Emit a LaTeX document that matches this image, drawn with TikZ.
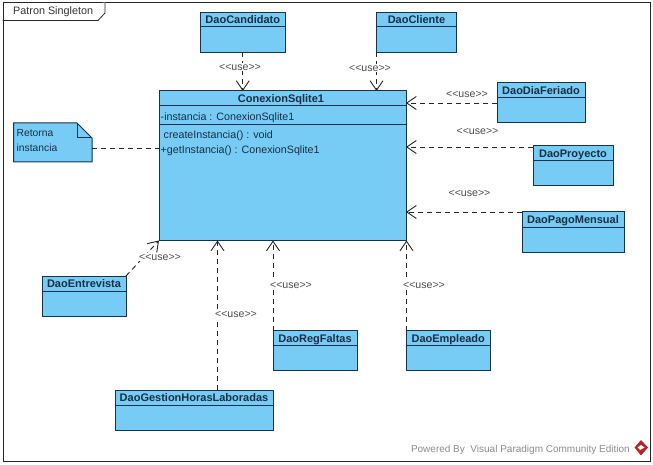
\documentclass[tikz,border=0pt]{standalone}
\usepackage{fontspec}
\setmainfont{Liberation Sans}
\usetikzlibrary{arrows.meta,positioning,calc}
\definecolor{clsfill}{HTML}{76CCF4}
\definecolor{clsline}{HTML}{15334F}
\definecolor{txtdark}{HTML}{1A2E44}
\tikzset{
  x=1pt,y=-1pt,
  cls/.style={draw=clsline,fill=clsfill,line width=1pt,anchor=north west,inner sep=0pt,outer sep=0pt},
  clsname/.style={anchor=base,inner sep=0pt,font=\fontsize{11}{12}\selectfont\bfseries,text=txtdark},
  member/.style={anchor=base west,inner sep=0pt,font=\fontsize{10.7}{12}\selectfont,text=txtdark},
  sep/.style={draw=clsline,line width=1pt},
  dep/.style={draw=black!85,line width=.9pt,dash pattern=on 5pt off 4pt,-{Straight Barb[length=9.5pt,width=13pt,line width=.9pt]}},
  uselab/.style={fill=white,inner sep=1pt,font=\fontsize{10.6}{11}\selectfont,text=black!70},
}
\newcommand{\umlclass}[7]{% name, text, x, y, w, h, header
  \node[cls,minimum width=#5pt,minimum height=#6pt] (#1) at (#3,#4) {};
  \draw[sep] (#1.north west) ++(0,#7) -- ++(#5,0);
  \node[clsname] (#1t) at ($(#1.north)+(0,11.5)$) {#2};
}
\begin{document}
\begin{tikzpicture}
\useasboundingbox (0,0) rectangle (653,465);
\fill[white] (0,0) rectangle (653,465);
% frame
\node[draw=black!85,line width=1pt,minimum width=647pt,minimum height=458.5pt,anchor=north west,inner sep=0pt] (frame) at (2.5,2.5) {};
\draw[black!85,line width=.8pt,fill=white] (2.5,20.5) -- (98,20.5) -- (105,13) -- (105,2.5);
\node[anchor=base west,inner sep=0pt,font=\fontsize{10.8}{12}\selectfont,text=black!80] (frametitle) at (13,15) {Patron Singleton};
% main class
\node[cls,minimum width=247pt,minimum height=149.5pt] (main) at (159,91) {};
\draw[sep] (159,106) -- (406,106);
\draw[sep] (159,125) -- (406,125);
\node[clsname] (maint) at (281,103) {ConexionSqlite1};
\node[member] (attr) at (160.5,120.5) {-instancia : ConexionSqlite1};
\node[member] (op1) at (163.5,139) {createInstancia() : void};
\node[member] (op2) at (160.5,154) {+getInstancia() : ConexionSqlite1};
% other classes
\umlclass{cand}{DaoCandidato}{200.5}{12.5}{84.5}{40}{14.5}
\umlclass{clie}{DaoCliente}{376.5}{12.5}{80}{40}{14.5}
\umlclass{feri}{DaoDiaFeriado}{497}{83}{88}{40}{15}
\umlclass{proy}{DaoProyecto}{533}{146}{80}{40}{15}
\umlclass{pago}{DaoPagoMensual}{522}{212}{102}{40}{15}
\umlclass{entr}{DaoEntrevista}{42}{276}{84}{40}{15}
\umlclass{gest}{DaoGestionHorasLaboradas}{115}{390}{158}{40}{15.5}
\umlclass{regf}{DaoRegFaltas}{273}{330.5}{84}{40}{15}
\umlclass{empl}{DaoEmpleado}{406.5}{330.5}{83.5}{40}{15}
% note
\draw[clsline,line width=1pt,fill=clsfill] (13.5,123) -- (77,123) -- (92,138) -- (92,162) -- (13.5,162) -- cycle;
\draw[clsline,line width=1pt] (77,123) -- (77,138) -- (92,138);
\node[anchor=north west,inner sep=0pt,minimum width=78.5pt,minimum height=39pt] (note) at (13.5,123) {};
\node[anchor=base west,inner sep=0pt,font=\fontsize{10.3}{15}\selectfont,text=txtdark] (notet) at (16.5,136.5) {Retorna};
\node[anchor=base west,inner sep=0pt,font=\fontsize{10.3}{15}\selectfont,text=txtdark] (notet2) at (16.5,151.5) {instancia};
% connectors
\coordinate (nn) at ($(note.east)+(0,5.5)$);
\draw[draw=black!85,line width=.9pt,dash pattern=on 5pt off 4pt] (nn) -- (main.west |- nn);
\draw[dep] (cand.south) -- (cand.south |- main.north);
\draw[dep] (clie.south west) -- (clie.south west |- main.north);
\coordinate (f1) at ($(feri.north west)+(0,20)$);
\draw[dep] (f1) -- (main.east |- f1);
\coordinate (p1) at ($(proy.north west)+(0,1)$);
\draw[dep] (p1) -- (main.east |- p1);
\coordinate (m1) at ($(pago.north west)+(0,0)$);
\draw[dep] (m1) -- (main.east |- m1);
\draw[dep] (entr.north east) -- (main.south west);
\coordinate (g1) at ($(gest.north west)+(102.5,0)$);
\draw[dep] (g1) -- (g1 |- main.south);
\draw[dep] (regf.north west) -- (regf.north west |- main.south);
\draw[dep] (empl.north west) -- (empl.north west |- main.south);
% labels
\node[uselab] (u1) at (240,67) {<{}<use>{}>};
\node[uselab] (u2) at (370,68) {<{}<use>{}>};
\node[uselab,fill=none] (u3) at (467,94) {<{}<use>{}>};
\node[uselab,fill=none] (u4) at (477.5,131) {<{}<use>{}>};
\node[uselab,fill=none] (u5) at (469.5,193) {<{}<use>{}>};
\node[uselab] (u6) at (160,257) {<{}<use>{}>};
\node[uselab] (u7) at (236,314.5) {<{}<use>{}>};
\node[uselab] (u8) at (291,285.5) {<{}<use>{}>};
\node[uselab] (u9) at (424,285) {<{}<use>{}>};
% footer
\node[anchor=base east,inner sep=0pt,font=\fontsize{10}{12}\selectfont,text=black!45] (pow) at (630,452) {Powered By\ \ Visual Paradigm Community Edition};
\fill[red!65!black!85] (641,440) -- (648,447.5) -- (641,455.5) -- (634.5,447.5) -- cycle;
\fill[white] (641,445) -- (644.5,447.5) -- (640,450) -- (637.5,447.5) -- cycle;
\end{tikzpicture}
\end{document}
